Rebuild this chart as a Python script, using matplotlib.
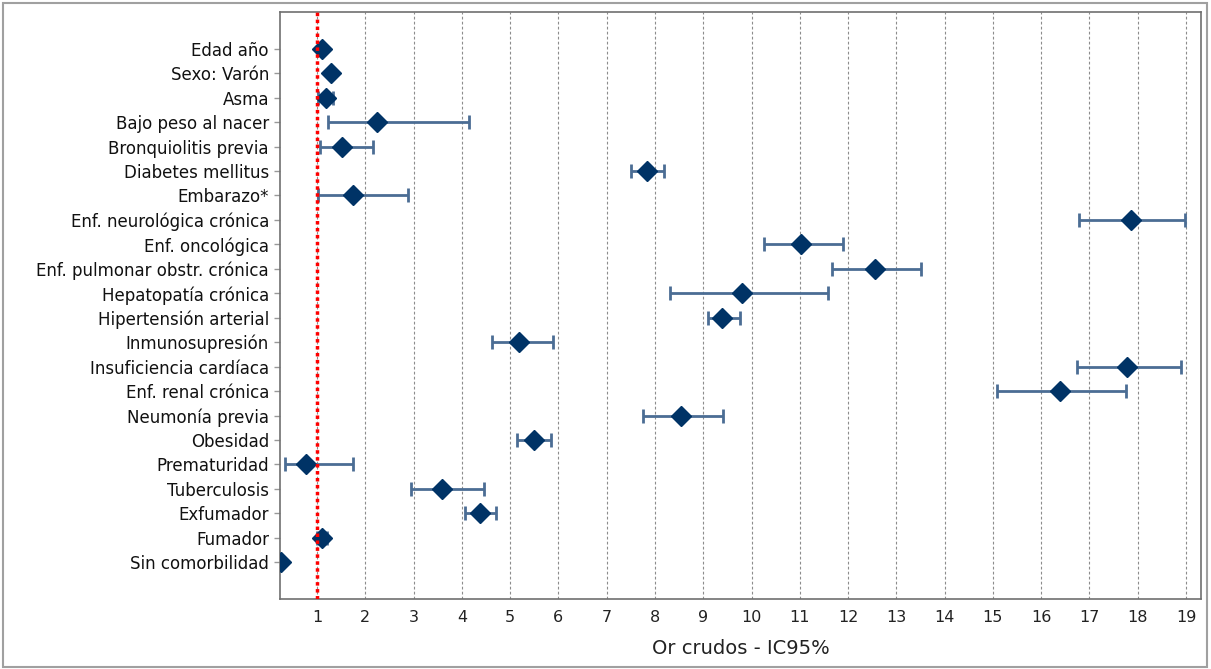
import numpy as np
import matplotlib.pyplot as plt
from matplotlib.patches import Rectangle

labels = ['Edad año', 'Sexo: Varón', 'Asma', 'Bajo peso al nacer', 'Bronquiolitis previa',
          'Diabetes mellitus', 'Embarazo*', 'Enf. neurológica crónica', 'Enf. oncológica',
          'Enf. pulmonar obstr. crónica', 'Hepatopatía crónica', 'Hipertensión arterial',
          'Inmunosupresión', 'Insuficiencia cardíaca', 'Enf. renal crónica', 'Neumonía previa',
          'Obesidad', 'Prematuridad', 'Tuberculosis', 'Exfumador', 'Fumador', 'Sin comorbilidad']
or_val = [1.10, 1.29, 1.19, 2.25, 1.52, 7.83, 1.75, 17.85, 11.02, 12.55, 9.80, 9.39,
          5.19, 17.77, 16.38, 8.54, 5.49, 0.77, 3.59, 4.37, 1.10, 0.26]
ci_low = [1.06, 1.25, 1.03, 1.22, 1.06, 7.50, 1.03, 16.78, 10.25, 11.66, 8.32, 9.09,
          4.62, 16.75, 15.08, 7.76, 5.15, 0.33, 2.94, 4.06, 1.00, 0.25]
ci_high = [1.14, 1.33, 1.34, 4.15, 2.15, 8.18, 2.89, 18.98, 11.90, 13.52, 11.59, 9.76,
           5.88, 18.90, 17.76, 9.40, 5.84, 1.75, 4.46, 4.70, 1.21, 0.27]
xticks = list(range(1, 20))

plt.rcParams['font.family'] = ['DejaVu Sans']

fig = plt.figure(figsize=(12.11, 6.69), dpi=100)
ax = fig.add_axes([280 / 1211, 1 - 599 / 669, (1201 - 280) / 1211, (599 - 12) / 669])

y = np.arange(len(labels))
or_arr = np.array(or_val)
err = [or_arr - np.array(ci_low), np.array(ci_high) - or_arr]

ax.errorbar(or_arr, y, xerr=err, fmt='none', ecolor='#4b6d94', elinewidth=2,
            capsize=5, capthick=2, zorder=3)
ax.plot(or_arr, y, 'D', color='#003366', markersize=10, zorder=4, linestyle='none')
ax.axvline(1, color='#ff0000', linestyle=(0, (1, 1)), linewidth=2.5, zorder=5)

ax.set_xlim(0.234, 19.31)
ax.set_ylim(len(labels) + 0.5, -1.5)
ax.set_yticks(y)
ax.set_yticklabels(labels, fontsize=12)
ax.set_xticks(xticks)
ax.set_xticklabels([str(t) for t in xticks], fontsize=11.5)
ax.xaxis.grid(True, color='#8c8c8c', linestyle=(0, (2.5, 2)), linewidth=0.8)
ax.set_axisbelow(True)
ax.tick_params(axis='x', length=0, pad=8, colors='#222222')
ax.tick_params(axis='y', length=4, width=1, color='#999999', pad=4, labelcolor='#111111')
for s in ax.spines.values():
    s.set_color('#707070')
    s.set_linewidth(1.2)
ax.set_xlabel('Or crudos - IC95%', fontsize=14, labelpad=10, color='#222222')

fig.patches.append(Rectangle((3 / 1211, 2 / 669), 1204 / 1211, 664 / 669, transform=fig.transFigure,
                             fill=False, edgecolor='#a0a0a0', linewidth=1.5))

fig.savefig('out.png', dpi=100)
